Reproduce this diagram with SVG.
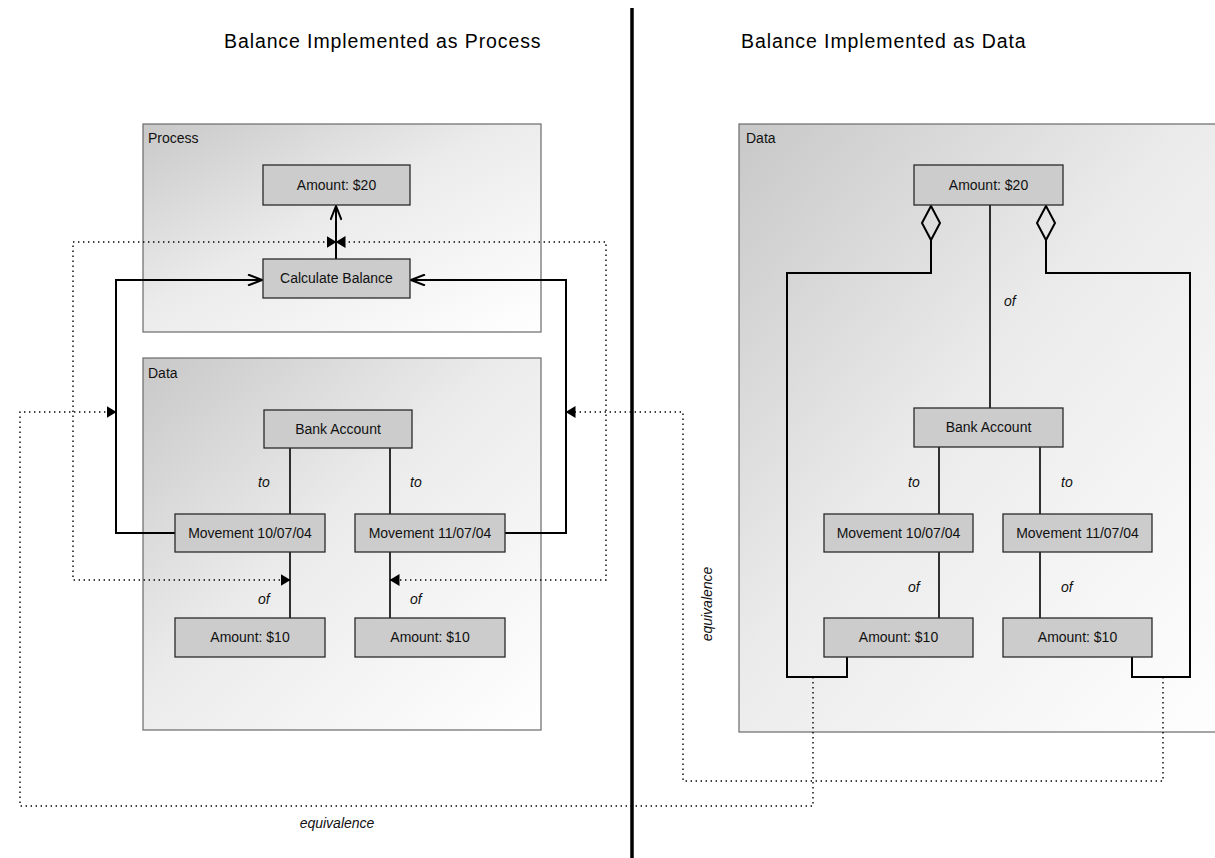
<svg xmlns="http://www.w3.org/2000/svg" width="1215" height="858" viewBox="0 0 1215 858">
  <style>
    .title { font-family: "Liberation Sans", Arial, sans-serif; font-size: 19.5px; letter-spacing: 0.9px; fill: #000; }
    .frame { stroke: #6a6a6a; stroke-width: 1.2; fill: url(#shade); }
    .frame-label { font-family: "Liberation Sans", Arial, sans-serif; font-size: 14px; fill: #111; }
    .node rect { fill: #cccccc; stroke: #2a2a2a; stroke-width: 1.3; }
    .node text { font-family: "Liberation Sans", Arial, sans-serif; font-size: 14px; fill: #111; text-anchor: middle; }
    .link { stroke: #000; stroke-width: 1.6; fill: none; }
    .flow { stroke: #000; stroke-width: 2; fill: none; }
    .agg { stroke: #000; stroke-width: 2; fill: none; }
    .dots { stroke: #000; stroke-width: 1.4; fill: none; stroke-dasharray: 1.4 3.6; }
    .role { font-family: "Liberation Sans", Arial, sans-serif; font-size: 14px; font-style: italic; fill: #111; }
  </style>
  <defs>
    <linearGradient id="shade" x1="0" y1="0" x2="1" y2="1">
      <stop offset="0" stop-color="#c8c8c8"/>
      <stop offset="0.45" stop-color="#ebebeb"/>
      <stop offset="1" stop-color="#ffffff"/>
    </linearGradient>
    <marker id="open" viewBox="0 0 16 12" refX="15" refY="6" markerWidth="16" markerHeight="12" markerUnits="userSpaceOnUse" orient="auto">
      <path d="M1,0.5 L15,6 L1,11.5" fill="none" stroke="#000" stroke-width="2"/>
    </marker>
    <marker id="tri" viewBox="0 0 10 12" refX="9.5" refY="6" markerWidth="10" markerHeight="12" markerUnits="userSpaceOnUse" orient="auto-start-reverse">
      <path d="M0,0 L10,6 L0,12 Z" fill="#000"/>
    </marker>
  </defs>

  <rect width="1215" height="858" fill="#ffffff"/>

  <!-- headings and divider -->
  <text class="title" x="224" y="48">Balance Implemented as Process</text>
  <text class="title" x="741" y="48">Balance Implemented as Data</text>
  <line x1="632" y1="8" x2="632" y2="858" stroke="#000" stroke-width="3.5"/>

  <!-- containers -->
  <g id="process-frame">
    <rect class="frame" x="143" y="124" width="398" height="208"/>
    <text class="frame-label" x="148" y="143">Process</text>
  </g>
  <g id="data-frame-left">
    <rect class="frame" x="143" y="358" width="398" height="372"/>
    <text class="frame-label" x="148" y="378">Data</text>
  </g>
  <g id="data-frame-right">
    <rect class="frame" x="739" y="124" width="500" height="608"/>
    <text class="frame-label" x="746" y="143">Data</text>
  </g>

  <!-- connectors -->
  <g id="connectors">
    <!-- process side -->
    <line class="flow" x1="336" y1="259" x2="336" y2="206" marker-end="url(#open)"/>
    <path class="flow" d="M175,533 H116 V280 H262" marker-end="url(#open)"/>
    <path class="flow" d="M505,533 H566 V280 H411" marker-end="url(#open)"/>
    <line class="link" x1="290" y1="448" x2="290" y2="514"/>
    <line class="link" x1="390" y1="448" x2="390" y2="514"/>
    <line class="link" x1="290" y1="552" x2="290" y2="618"/>
    <line class="link" x1="390" y1="552" x2="390" y2="618"/>
    <path class="dots" d="M290,580 H73 V242 H336" marker-start="url(#tri)" marker-end="url(#tri)"/>
    <path class="dots" d="M390,580 H606 V242 H336" marker-start="url(#tri)" marker-end="url(#tri)"/>

    <!-- data side -->
    <line class="link" x1="990" y1="205" x2="990" y2="408"/>
    <line class="link" x1="939" y1="447" x2="939" y2="514"/>
    <line class="link" x1="1040" y1="447" x2="1040" y2="514"/>
    <line class="link" x1="939" y1="552" x2="939" y2="618"/>
    <line class="link" x1="1040" y1="552" x2="1040" y2="618"/>
    <path class="agg" d="M931,206 L940,223 L931,240 L922,223 Z"/>
    <path class="agg" d="M931,240 V273 H787 V677 H847 V657"/>
    <path class="agg" d="M1046,206 L1055,223 L1046,240 L1037,223 Z"/>
    <path class="agg" d="M1046,240 V273 H1190 V677 H1132 V657"/>

    <!-- equivalences -->
    <path class="dots" d="M813,677 V806 H20 V412 H116" marker-end="url(#tri)"/>
    <path class="dots" d="M1163,677 V781 H683 V412 H566" marker-end="url(#tri)"/>
    <text class="role" x="337" y="828" text-anchor="middle">equivalence</text>
    <text class="role" transform="translate(712,604) rotate(-90)" text-anchor="middle">equivalence</text>

    <!-- role labels -->
    <text class="role" x="258" y="487">to</text>
    <text class="role" x="410" y="487">to</text>
    <text class="role" x="258" y="604">of</text>
    <text class="role" x="410" y="604">of</text>
    <text class="role" x="1004" y="306">of</text>
    <text class="role" x="908" y="487">to</text>
    <text class="role" x="1061" y="487">to</text>
    <text class="role" x="908" y="592">of</text>
    <text class="role" x="1061" y="592">of</text>
  </g>

  <!-- process-side nodes -->
  <g id="p-amount20" class="node"><rect x="263" y="165" width="147" height="40"/><text x="336.5" y="190">Amount: $20</text></g>
  <g id="p-calc" class="node"><rect x="263" y="259" width="147" height="39"/><text x="336.5" y="283">Calculate Balance</text></g>
  <g id="p-bank" class="node"><rect x="264" y="410" width="148" height="38"/><text x="338" y="434">Bank Account</text></g>
  <g id="p-mov1" class="node"><rect x="175" y="514" width="150" height="38"/><text x="250" y="538">Movement 10/07/04</text></g>
  <g id="p-mov2" class="node"><rect x="355" y="514" width="150" height="38"/><text x="430" y="538">Movement 11/07/04</text></g>
  <g id="p-amt1" class="node"><rect x="175" y="618" width="150" height="39"/><text x="250" y="642">Amount: $10</text></g>
  <g id="p-amt2" class="node"><rect x="355" y="618" width="150" height="39"/><text x="430" y="642">Amount: $10</text></g>

  <!-- data-side nodes -->
  <g id="d-amount20" class="node"><rect x="914" y="165" width="149" height="40"/><text x="988.5" y="190">Amount: $20</text></g>
  <g id="d-bank" class="node"><rect x="914" y="408" width="149" height="39"/><text x="988.5" y="432">Bank Account</text></g>
  <g id="d-mov1" class="node"><rect x="824" y="514" width="149" height="38"/><text x="898.5" y="538">Movement 10/07/04</text></g>
  <g id="d-mov2" class="node"><rect x="1003" y="514" width="149" height="38"/><text x="1077.5" y="538">Movement 11/07/04</text></g>
  <g id="d-amt1" class="node"><rect x="824" y="618" width="149" height="39"/><text x="898.5" y="642">Amount: $10</text></g>
  <g id="d-amt2" class="node"><rect x="1003" y="618" width="149" height="39"/><text x="1077.5" y="642">Amount: $10</text></g>
</svg>
